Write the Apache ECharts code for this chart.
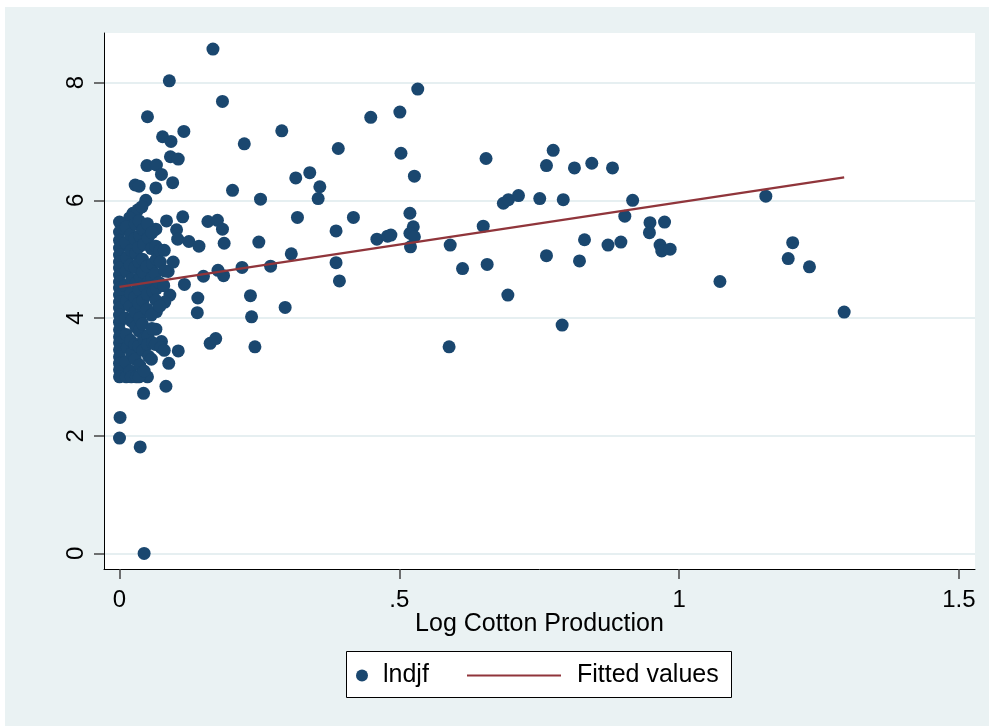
<!DOCTYPE html>
<html><head><meta charset="utf-8">
<script src="https://cdn.jsdelivr.net/npm/echarts@6/dist/echarts.min.js"></script>
<style>html,body{margin:0;padding:0;background:#fff;} #c{position:absolute;left:5px;top:7px;width:984px;height:719px;}</style>
</head><body><div id="c"></div>
<script>
const xTicks = [0, 0.5, 1, 1.5];
const xTickLabels = ['0', '.5', '1', '1.5'];
const yTicks = [0, 2, 4, 6, 8];
const yTickLabels = ['0', '2', '4', '6', '8'];

// scattered points outside the dense cluster
const spreadX = [0.167,0.089,0.184,0.050,0.115,0.077,0.092,0.223,0.290,0.091,0.105,0.049,0.066,0.075,0.315,0.340,0.358,0.355,0.028,0.035,
  0.065,0.095,0.202,0.252,0.047,0.318,0.113,0.084,0.158,0.175,0.184,0.065,0.102,0.104,0.124,0.187,0.249,0.142,0.387,0.387,
  0.393,0.307,0.270,0.219,0.176,0.186,0.150,0.140,0.139,0.234,0.236,0.296,0.242,0.162,0.172,0.116,0.090,0.105,0.088,0.083,
  0.043,0.050,0.066,0.065,0.001,0.000,0.037,0.044,0.533,0.449,0.501,0.391,0.503,0.655,0.527,0.775,0.763,0.813,0.844,0.881,
  0.917,0.686,0.695,0.713,0.751,0.793,0.418,0.519,0.525,0.519,0.527,0.520,0.460,0.479,0.485,0.650,0.591,0.613,0.657,0.694,
  0.763,0.831,0.822,0.873,0.896,0.903,0.948,0.947,0.974,0.966,0.969,0.984,0.589,0.791,1.073,1.155,1.203,1.195,1.233,1.295,
  0.087,0.078,0.081,0.075,0.096,0.024,0.033,0.040,0.018];
const spreadY = [8.57,8.03,7.68,7.42,7.17,7.08,7.00,6.96,7.18,6.74,6.70,6.59,6.60,6.44,6.38,6.47,6.23,6.03,6.26,6.24,
  6.21,6.30,6.17,6.02,6.00,5.71,5.72,5.65,5.64,5.66,5.51,5.51,5.50,5.34,5.30,5.27,5.29,5.22,5.48,4.94,
  4.63,5.09,4.88,4.86,4.81,4.72,4.71,4.34,4.09,4.38,4.02,4.18,3.51,3.57,3.65,4.57,4.39,3.44,3.23,2.84,
  2.72,3.00,4.11,3.81,2.31,1.96,1.81,0.00,7.89,7.41,7.50,6.88,6.80,6.71,6.41,6.85,6.59,6.55,6.63,6.55,
  6.00,5.95,6.01,6.08,6.03,6.01,5.71,5.78,5.55,5.44,5.38,5.21,5.34,5.39,5.41,5.56,5.24,4.84,4.91,4.39,
  5.06,5.33,4.97,5.24,5.29,5.73,5.62,5.45,5.63,5.24,5.14,5.17,3.51,3.88,4.62,6.07,5.28,5.01,4.87,4.10,
  4.79,4.56,4.27,3.60,4.95,5.78,5.84,5.89,5.70];

// dense cluster near zero
const clusterX = [0,0,0,0,0,0,0,0,0,0,0,0,0,0,0,0,0,0,0,0,0,0,0,
  0.012,0.011,0.013,0.012,0.010,0.013,0.011,0.012,0.014,0.011,0.012,
  0.020,0.021,0.019,0.022,0.020,0.019,0.021,0.020,0.022,0.019,0.021,
  0.028,0.027,0.029,0.028,0.030,0.027,0.028,0.029,0.027,0.028,0.030,
  0.035,0.036,0.034,0.035,0.037,0.035,0.034,0.036,0.035,0.034,0.036,0.035,
  0.042,0.043,0.041,0.042,0.044,0.042,0.041,0.043,0.042,0.044,
  0.050,0.051,0.049,0.052,0.050,0.049,0.051,0.050,0.052,
  0.058,0.057,0.059,0.058,0.060,0.057,0.058,0.059,0.057,
  0.065,0.066,0.064,0.066,0.065,0.064,
  0.072,0.073,0.071,0.072,0.074,
  0.080,0.081,0.079,0.080];
const clusterY = [5.63,5.46,5.32,5.19,5.07,4.95,4.85,4.73,4.61,4.51,4.39,4.27,4.17,4.05,3.93,3.80,3.68,3.58,3.46,3.34,3.23,3.12,3.00,
  5.55,5.28,5.02,4.80,4.55,4.30,4.00,3.72,3.50,3.25,3.00,
  5.42,5.15,4.90,4.66,4.42,4.20,3.95,3.62,3.40,3.10,3.00,
  5.60,5.35,5.10,4.86,4.60,4.35,4.10,3.85,3.55,3.30,3.00,
  5.65,5.40,5.20,4.95,4.70,4.48,4.25,4.00,3.78,3.52,3.20,3.00,
  5.50,5.25,5.00,4.78,4.55,4.30,3.90,3.65,3.45,3.10,
  5.60,5.36,4.88,4.62,4.40,4.15,3.70,3.55,3.35,
  5.45,5.18,4.92,4.68,4.45,4.05,3.82,3.58,3.30,
  5.22,5.00,4.75,4.50,4.30,3.55,
  5.15,4.95,4.60,4.20,3.50,
  5.15,4.80,4.55,3.45];

const fitX = [0, 1.295];
const fitY = [4.53, 6.39];

const pts = [];
spreadX.forEach((x, i) => pts.push([x, spreadY[i]]));
clusterX.forEach((x, i) => pts.push([x, clusterY[i]]));
const fitData = fitX.map((x, i) => [x, fitY[i]]);

const FONT = "'Liberation Sans', Arial, sans-serif";
const chart = echarts.init(document.getElementById('c'));
chart.setOption({
  backgroundColor: '#eaf2f3',
  animation: false,
  grid: { left: 99, top: 26, width: 871, height: 536, containLabel: false, outerBoundsMode: 'none',
          show: true, backgroundColor: '#ffffff', borderWidth: 0 },
  xAxis: {
    type: 'value', min: -0.0277, max: 1.5288,
    name: 'Log Cotton Production', nameLocation: 'middle', nameGap: 43, nameMoveOverlap: false,
    nameTextStyle: { fontSize: 25, color: '#000', fontFamily: FONT },
    axisLine: { show: true, onZero: false, lineStyle: { color: '#000', width: 1 } },
    axisTick: { show: true, length: 10, lineStyle: { color: '#444', width: 1.5 }, customValues: xTicks },
    axisLabel: { customValues: xTicks, margin: 19, fontSize: 24, color: '#000', fontFamily: FONT,
      formatter: v => { const i = xTicks.findIndex(t => Math.abs(t - v) < 1e-9); return i >= 0 ? xTickLabels[i] : ''; } },
    splitLine: { show: false }
  },
  yAxis: {
    type: 'value', min: -0.265, max: 8.843,
    axisLine: { show: true, onZero: false, lineStyle: { color: '#000', width: 1 } },
    axisTick: { show: true, length: 10, lineStyle: { color: '#444', width: 1.5 }, customValues: yTicks },
    axisLabel: { customValues: yTicks, rotate: 90, margin: 16, fontSize: 24, color: '#000', fontFamily: FONT,
      formatter: v => { const i = yTicks.findIndex(t => Math.abs(t - v) < 1e-9); return i >= 0 ? yTickLabels[i] : ''; } },
    splitLine: { show: true, lineStyle: { color: '#e6eff1', width: 2 } }
  },
  legend: [
    { left: 351, top: 656, padding: 0, itemWidth: 32, itemHeight: 12, data: ['lndjf'],
      textStyle: { fontSize: 25, color: '#000', fontFamily: FONT } },
    { left: 461, top: 656, padding: 0, itemWidth: 94, itemHeight: 12, data: ['Fitted values'],
      itemStyle: { opacity: 0 },
      textStyle: { fontSize: 25, color: '#000', fontFamily: FONT, padding: [0, 0, 0, 11] } }
  ],
  graphic: [{ type: 'rect', z: 1, shape: { x: 341.5, y: 644.5, width: 385, height: 46 },
    style: { fill: '#fff', stroke: '#000', lineWidth: 1 } }],
  series: [
    { name: 'lndjf', type: 'scatter', data: pts, symbol: 'circle', symbolSize: 13,
      itemStyle: { color: '#1a476f', opacity: 1 } },
    { name: 'Fitted values', type: 'line', data: fitData, symbol: 'none', showSymbol: false,
      lineStyle: { color: '#90353b', width: 2.4 }, itemStyle: { color: '#90353b' }, z: 3 }
  ]
});
</script></body></html>
